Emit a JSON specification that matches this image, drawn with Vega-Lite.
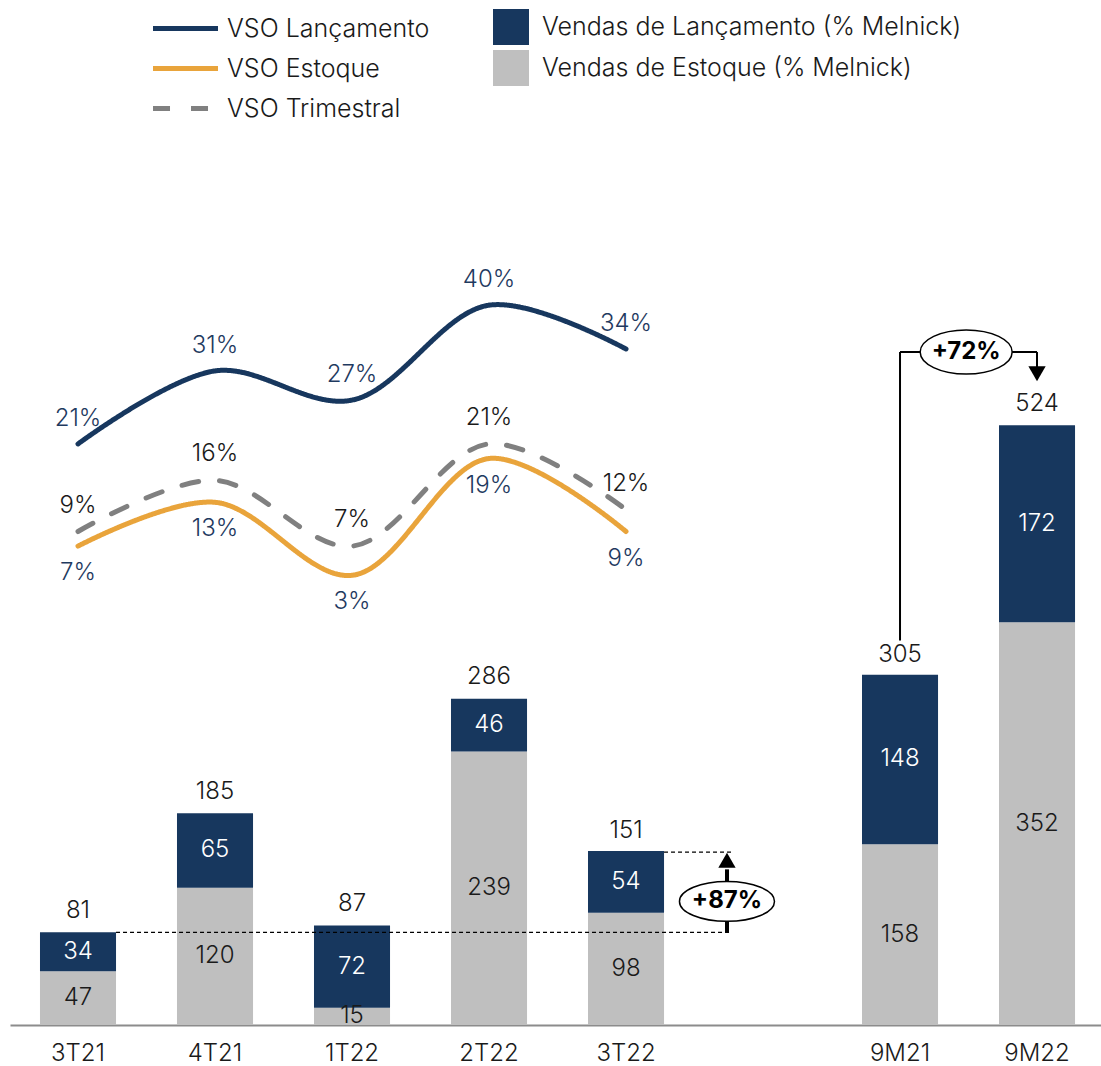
{
  "$schema": "https://vega.github.io/schema/vega-lite/v6.json",
  "width": 1091,
  "height": 895,
  "autosize": {"type": "none"},
  "padding": {"left": 10, "right": 0, "top": 130, "bottom": 41},
  "background": "white",
  "config": {
    "view": {"stroke": null},
    "font": "Inter",
    "text": {"font": "Inter", "fontWeight": 300},
    "axisX": {"domainColor": "#8c8c8c", "domainWidth": 2, "ticks": false, "labelFontSize": 24, "labelFontWeight": 300, "labelPadding": 16, "labelColor": "#1a1a1a", "labelAngle": 0, "grid": false, "labelFont": "Inter"},
    "legend": {"labelFont": "Inter", "labelFontSize": 25, "labelFontWeight": 300, "labelColor": "#1a1a1a", "labelOffset": 13, "labelLimit": 600, "padding": 0}
  },
  "datasets": {
    "bars": [
      {"cat": "3T21", "series": "Vendas de Estoque (% Melnick)", "value": 47},
      {"cat": "3T21", "series": "Vendas de Lançamento (% Melnick)", "value": 34},
      {"cat": "4T21", "series": "Vendas de Estoque (% Melnick)", "value": 120},
      {"cat": "4T21", "series": "Vendas de Lançamento (% Melnick)", "value": 65},
      {"cat": "1T22", "series": "Vendas de Estoque (% Melnick)", "value": 15},
      {"cat": "1T22", "series": "Vendas de Lançamento (% Melnick)", "value": 72},
      {"cat": "2T22", "series": "Vendas de Estoque (% Melnick)", "value": 239},
      {"cat": "2T22", "series": "Vendas de Lançamento (% Melnick)", "value": 46},
      {"cat": "3T22", "series": "Vendas de Estoque (% Melnick)", "value": 98},
      {"cat": "3T22", "series": "Vendas de Lançamento (% Melnick)", "value": 54},
      {"cat": "9M21", "series": "Vendas de Estoque (% Melnick)", "value": 158},
      {"cat": "9M21", "series": "Vendas de Lançamento (% Melnick)", "value": 148},
      {"cat": "9M22", "series": "Vendas de Estoque (% Melnick)", "value": 352},
      {"cat": "9M22", "series": "Vendas de Lançamento (% Melnick)", "value": 172}
    ],
    "totals": [
      {"cat": "3T21", "total": 81},
      {"cat": "4T21", "total": 185},
      {"cat": "1T22", "total": 87},
      {"cat": "2T22", "total": 286},
      {"cat": "3T22", "total": 151},
      {"cat": "9M21", "total": 305},
      {"cat": "9M22", "total": 524}
    ],
    "vso": [
      {"cat": "3T21", "serie": "VSO Lançamento", "vso": 0.21},
      {"cat": "4T21", "serie": "VSO Lançamento", "vso": 0.31},
      {"cat": "1T22", "serie": "VSO Lançamento", "vso": 0.27},
      {"cat": "2T22", "serie": "VSO Lançamento", "vso": 0.40},
      {"cat": "3T22", "serie": "VSO Lançamento", "vso": 0.34},
      {"cat": "3T21", "serie": "VSO Estoque", "vso": 0.07},
      {"cat": "4T21", "serie": "VSO Estoque", "vso": 0.13},
      {"cat": "1T22", "serie": "VSO Estoque", "vso": 0.03},
      {"cat": "2T22", "serie": "VSO Estoque", "vso": 0.19},
      {"cat": "3T22", "serie": "VSO Estoque", "vso": 0.09},
      {"cat": "3T21", "serie": "VSO Trimestral", "vso": 0.09},
      {"cat": "4T21", "serie": "VSO Trimestral", "vso": 0.16},
      {"cat": "1T22", "serie": "VSO Trimestral", "vso": 0.07},
      {"cat": "2T22", "serie": "VSO Trimestral", "vso": 0.21},
      {"cat": "3T22", "serie": "VSO Trimestral", "vso": 0.12}
    ]
  },
  "layer": [
    {
      "layer": [
        {
          "data": {"name": "bars"},
          "mark": {"type": "bar"},
          "encoding": {
            "x": {"field": "cat", "type": "nominal", "title": null, "scale": {"domain": ["3T21", "4T21", "1T22", "2T22", "3T22", " ", "9M21", "9M22"], "paddingInner": 0.445, "paddingOuter": 0.2042, "align": 0.536}},
            "y": {"field": "value", "type": "quantitative", "stack": "zero", "scale": {"domain": [0, 782], "nice": false}, "axis": null},
            "color": {"field": "series", "type": "nominal", "scale": {"domain": ["Vendas de Lançamento (% Melnick)", "Vendas de Estoque (% Melnick)"], "range": ["#17375e", "#bfbfbf"]}, "legend": {"title": null, "orient": "none", "legendX": 483, "legendY": -121, "symbolType": "square", "symbolSize": 1296, "symbolStrokeWidth": 0, "rowPadding": 5}},
            "order": {"field": "series", "sort": "ascending"}
          }
        },
        {
          "data": {"name": "bars"},
          "mark": {"type": "text", "fontSize": 24, "baseline": "middle", "align": "center"},
          "encoding": {
            "x": {"field": "cat", "type": "nominal", "title": null, "scale": {"domain": ["3T21", "4T21", "1T22", "2T22", "3T22", " ", "9M21", "9M22"], "paddingInner": 0.445, "paddingOuter": 0.2042, "align": 0.536}},
            "y": {"field": "value", "type": "quantitative", "stack": "zero", "bandPosition": 0.5, "scale": {"domain": [0, 782], "nice": false}, "axis": null},
            "order": {"field": "series", "sort": "ascending"},
            "text": {"field": "value", "type": "quantitative"},
            "color": {"condition": {"test": "datum.series === 'Vendas de Lançamento (% Melnick)'", "value": "white"}, "value": "#1a1a1a"}
          }
        },
        {
          "data": {"name": "totals"},
          "mark": {"type": "text", "fontSize": 24, "baseline": "middle", "align": "center", "dy": -21, "color": "#1a1a1a"},
          "encoding": {
            "x": {"field": "cat", "type": "nominal", "title": null, "scale": {"domain": ["3T21", "4T21", "1T22", "2T22", "3T22", " ", "9M21", "9M22"], "paddingInner": 0.445, "paddingOuter": 0.2042, "align": 0.536}},
            "y": {"field": "total", "type": "quantitative", "scale": {"domain": [0, 782], "nice": false}, "axis": null},
            "text": {"field": "total", "type": "quantitative"}
          }
        },
        {
          "data": {"values": [{"a": "3T21", "b": " ", "v": 81}, {"a": "3T22", "b": " ", "v": 151}]},
          "mark": {"type": "rule", "strokeDash": [4, 3], "strokeWidth": 1.2, "color": "#000000"},
          "encoding": {
            "x": {"field": "a", "type": "nominal", "title": null, "bandPosition": 1, "scale": {"domain": ["3T21", "4T21", "1T22", "2T22", "3T22", " ", "9M21", "9M22"], "paddingInner": 0.445, "paddingOuter": 0.2042, "align": 0.536}},
            "x2": {"field": "b", "bandPosition": 0.08},
            "y": {"field": "v", "type": "quantitative", "scale": {"domain": [0, 782], "nice": false}, "axis": null}
          }
        },
        {
          "data": {"values": [{"a": " ", "v": 81, "v2": 136}]},
          "mark": {"type": "rule", "strokeWidth": 4, "color": "#000000"},
          "encoding": {
            "x": {"field": "a", "type": "nominal", "title": null, "bandPosition": 0.026, "scale": {"domain": ["3T21", "4T21", "1T22", "2T22", "3T22", " ", "9M21", "9M22"], "paddingInner": 0.445, "paddingOuter": 0.2042, "align": 0.536}},
            "y": {"field": "v", "type": "quantitative", "scale": {"domain": [0, 782], "nice": false}, "axis": null},
            "y2": {"field": "v2"}
          }
        },
        {
          "data": {"values": [{"a": " ", "v": 144}]},
          "mark": {"type": "point", "shape": "triangle-up", "size": 300, "filled": true, "color": "#000000", "opacity": 1},
          "encoding": {
            "x": {"field": "a", "type": "nominal", "title": null, "bandPosition": 0.026, "scale": {"domain": ["3T21", "4T21", "1T22", "2T22", "3T22", " ", "9M21", "9M22"], "paddingInner": 0.445, "paddingOuter": 0.2042, "align": 0.536}},
            "y": {"field": "v", "type": "quantitative", "scale": {"domain": [0, 782], "nice": false}, "axis": null}
          }
        },
        {
          "data": {"values": [{"a": "9M21", "b": "9M21", "v": 336, "v2": 588}, {"a": "9M21", "b": "9M22", "v": 588, "v2": 588}, {"a": "9M22", "b": "9M22", "v": 588, "v2": 572}]},
          "mark": {"type": "rule", "strokeWidth": 2, "color": "#000000"},
          "encoding": {
            "x": {"field": "a", "type": "nominal", "title": null, "bandPosition": 0.5, "scale": {"domain": ["3T21", "4T21", "1T22", "2T22", "3T22", " ", "9M21", "9M22"], "paddingInner": 0.445, "paddingOuter": 0.2042, "align": 0.536}},
            "x2": {"field": "b", "bandPosition": 0.5},
            "y": {"field": "v", "type": "quantitative", "scale": {"domain": [0, 782], "nice": false}, "axis": null},
            "y2": {"field": "v2"}
          }
        },
        {
          "data": {"values": [{"a": "9M22", "v": 569}]},
          "mark": {"type": "point", "shape": "triangle-down", "size": 300, "filled": true, "color": "#000000", "opacity": 1},
          "encoding": {
            "x": {"field": "a", "type": "nominal", "title": null, "scale": {"domain": ["3T21", "4T21", "1T22", "2T22", "3T22", " ", "9M21", "9M22"], "paddingInner": 0.445, "paddingOuter": 0.2042, "align": 0.536}},
            "y": {"field": "v", "type": "quantitative", "scale": {"domain": [0, 782], "nice": false}, "axis": null}
          }
        },
        {
          "data": {"values": [{"a": " ", "v": 108, "label": "+87%"}]},
          "mark": {"type": "point", "shape": "M-1,0C-1,-0.232,-0.552,-0.42,0,-0.42C0.552,-0.42,1,-0.232,1,0C1,0.232,0.552,0.42,0,0.42C-0.552,0.42,-1,0.232,-1,0Z", "size": 9025, "filled": true, "fill": "white", "stroke": "#000000", "strokeWidth": 1.5, "opacity": 1},
          "encoding": {
            "x": {"field": "a", "type": "nominal", "title": null, "bandPosition": 0.026, "scale": {"domain": ["3T21", "4T21", "1T22", "2T22", "3T22", " ", "9M21", "9M22"], "paddingInner": 0.445, "paddingOuter": 0.2042, "align": 0.536}},
            "y": {"field": "v", "type": "quantitative", "scale": {"domain": [0, 782], "nice": false}, "axis": null}
          }
        },
        {
          "data": {"values": [{"a": " ", "v": 108, "label": "+87%"}]},
          "mark": {"type": "text", "fontSize": 24, "fontWeight": "bold", "baseline": "middle", "align": "center", "color": "#000000"},
          "encoding": {
            "x": {"field": "a", "type": "nominal", "title": null, "bandPosition": 0.026, "scale": {"domain": ["3T21", "4T21", "1T22", "2T22", "3T22", " ", "9M21", "9M22"], "paddingInner": 0.445, "paddingOuter": 0.2042, "align": 0.536}},
            "y": {"field": "v", "type": "quantitative", "scale": {"domain": [0, 782], "nice": false}, "axis": null},
            "text": {"field": "label"}
          }
        },
        {
          "data": {"values": [{"a": "9M21", "v": 588, "label": "+72%"}]},
          "mark": {"type": "point", "shape": "M-1,0C-1,-0.265,-0.552,-0.48,0,-0.48C0.552,-0.48,1,-0.265,1,0C1,0.265,0.552,0.48,0,0.48C-0.552,0.48,-1,0.265,-1,0Z", "size": 8464, "filled": true, "fill": "white", "stroke": "#000000", "strokeWidth": 1.5, "opacity": 1},
          "encoding": {
            "x": {"field": "a", "type": "nominal", "title": null, "bandPosition": 1.37, "scale": {"domain": ["3T21", "4T21", "1T22", "2T22", "3T22", " ", "9M21", "9M22"], "paddingInner": 0.445, "paddingOuter": 0.2042, "align": 0.536}},
            "y": {"field": "v", "type": "quantitative", "scale": {"domain": [0, 782], "nice": false}, "axis": null}
          }
        },
        {
          "data": {"values": [{"a": "9M21", "v": 588, "label": "+72%"}]},
          "mark": {"type": "text", "fontSize": 24, "fontWeight": "bold", "baseline": "middle", "align": "center", "color": "#000000"},
          "encoding": {
            "x": {"field": "a", "type": "nominal", "title": null, "bandPosition": 1.37, "scale": {"domain": ["3T21", "4T21", "1T22", "2T22", "3T22", " ", "9M21", "9M22"], "paddingInner": 0.445, "paddingOuter": 0.2042, "align": 0.536}},
            "y": {"field": "v", "type": "quantitative", "scale": {"domain": [0, 782], "nice": false}, "axis": null},
            "text": {"field": "label"}
          }
        }
      ]
    },
    {
      "data": {"name": "vso"},
      "layer": [
        {
          "mark": {"type": "line", "strokeWidth": 5, "interpolate": "catmull-rom", "strokeCap": "round"},
          "encoding": {
            "x": {"field": "cat", "type": "nominal", "title": null, "scale": {"domain": ["3T21", "4T21", "1T22", "2T22", "3T22", " ", "9M21", "9M22"], "paddingInner": 0.445, "paddingOuter": 0.2042, "align": 0.536}},
            "y": {"field": "vso", "type": "quantitative", "scale": {"domain": [-0.586, 0.64], "nice": false, "zero": false}, "axis": null},
            "stroke": {"field": "serie", "type": "nominal", "scale": {"domain": ["VSO Lançamento", "VSO Estoque", "VSO Trimestral"], "range": ["#17375e", "#e9a43b", "#808080"]}, "legend": {"title": null, "orient": "none", "legendX": 162, "legendY": -115, "symbolType": "M-3,0H3", "symbolSize": 469, "symbolStrokeWidth": 5, "rowPadding": 13, "labelOffset": 28}},
            "strokeDash": {"field": "serie", "type": "nominal", "scale": {"domain": ["VSO Lançamento", "VSO Estoque", "VSO Trimestral"], "range": [[1, 0], [1, 0], [17, 21]]}, "legend": {"title": null, "orient": "none", "legendX": 162, "legendY": -115, "symbolType": "M-3,0H3", "symbolSize": 469, "symbolStrokeWidth": 5, "rowPadding": 13, "labelOffset": 28}}
          }
        },
        {
          "transform": [{"filter": "datum.serie === 'VSO Lançamento'"}],
          "mark": {"type": "text", "fontSize": 24, "baseline": "middle", "align": "center", "dy": -25, "color": "#1f3a5f"},
          "encoding": {
            "x": {"field": "cat", "type": "nominal", "title": null, "scale": {"domain": ["3T21", "4T21", "1T22", "2T22", "3T22", " ", "9M21", "9M22"], "paddingInner": 0.445, "paddingOuter": 0.2042, "align": 0.536}},
            "y": {"field": "vso", "type": "quantitative", "scale": {"domain": [-0.586, 0.64], "nice": false, "zero": false}, "axis": null},
            "text": {"field": "vso", "type": "quantitative", "format": ".0%"}
          }
        },
        {
          "transform": [{"filter": "datum.serie === 'VSO Estoque'"}],
          "mark": {"type": "text", "fontSize": 24, "baseline": "middle", "align": "center", "dy": 27, "color": "#1f3a5f"},
          "encoding": {
            "x": {"field": "cat", "type": "nominal", "title": null, "scale": {"domain": ["3T21", "4T21", "1T22", "2T22", "3T22", " ", "9M21", "9M22"], "paddingInner": 0.445, "paddingOuter": 0.2042, "align": 0.536}},
            "y": {"field": "vso", "type": "quantitative", "scale": {"domain": [-0.586, 0.64], "nice": false, "zero": false}, "axis": null},
            "text": {"field": "vso", "type": "quantitative", "format": ".0%"}
          }
        },
        {
          "transform": [{"filter": "datum.serie === 'VSO Trimestral'"}],
          "mark": {"type": "text", "fontSize": 24, "baseline": "middle", "align": "center", "dy": -26, "color": "#1a1a1a"},
          "encoding": {
            "x": {"field": "cat", "type": "nominal", "title": null, "scale": {"domain": ["3T21", "4T21", "1T22", "2T22", "3T22", " ", "9M21", "9M22"], "paddingInner": 0.445, "paddingOuter": 0.2042, "align": 0.536}},
            "y": {"field": "vso", "type": "quantitative", "scale": {"domain": [-0.586, 0.64], "nice": false, "zero": false}, "axis": null},
            "text": {"field": "vso", "type": "quantitative", "format": ".0%"}
          }
        }
      ]
    }
  ],
  "resolve": {"scale": {"y": "independent"}}
}
